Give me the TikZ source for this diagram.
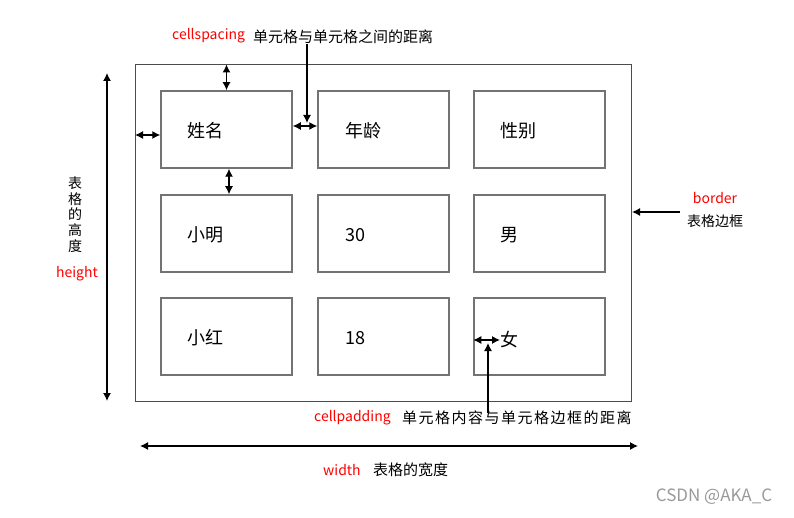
\documentclass[tikz,border=0pt]{standalone}
\usepackage{fontspec}
\newfontfamily\cjk{Noto Sans CJK SC}
\newfontfamily\cjkwide[LetterSpace=10]{Noto Sans CJK SC}
\usetikzlibrary{arrows.meta}

\begin{document}
\begin{tikzpicture}[x=1pt,y=-1pt,
		cellbox/.style={draw=black!55, line width=1.5pt, minimum width=131pt, minimum height=77pt},
		celltext/.style={anchor=west, inner sep=0pt, font={\cjk\fontsize{18}{20}\selectfont}},
		note/.style={inner sep=0pt, font={\cjk\fontsize{15}{16}\selectfont}},
		rednote/.style={inner sep=0pt, text=red, font={\cjk\fontsize{14}{16}\selectfont}},
		dim/.style={{Latex[length=8pt,width=8pt]}-{Latex[length=8pt,width=8pt]}, line width=1.2pt},
		pointer/.style={-{Latex[length=8pt,width=8pt]}, line width=1.2pt}
	]
	\useasboundingbox (0,0) rectangle (794,518);

	\node[draw=black!70, line width=1pt, minimum width=496pt, minimum height=336pt] (tbl) at (383.5,233) {};

	\node[cellbox] (c11) at (226.5,129.5) {};
	\node[cellbox] (c12) at (383.5,129.5) {};
	\node[cellbox] (c13) at (539.5,129.5) {};
	\node[cellbox] (c21) at (226.5,233.5) {};
	\node[cellbox] (c22) at (383.5,233.5) {};
	\node[cellbox] (c23) at (539.5,233.5) {};
	\node[cellbox] (c31) at (226.5,336.5) {};
	\node[cellbox] (c32) at (383.5,336.5) {};
	\node[cellbox] (c33) at (539.5,336.5) {};

	\node[celltext] (t11) at (187,131) {姓名};
	\node[celltext] (t12) at (345,131) {年龄};
	\node[celltext] (t13) at (500,131) {性别};
	\node[celltext] (t21) at (187,235) {小明};
	\node[celltext] (t22) at (345,235) {30};
	\node[celltext] (t23) at (500,235) {男};
	\node[celltext] (t31) at (187,338) {小红};
	\node[celltext] (t32) at (345,338) {18};
	\node[celltext] (t33) at (500,340) {女};

	\coordinate (lpad) at ([yshift=-5.5pt]c11.west);
	\coordinate (mgap) at ([yshift=3.5pt]c11.east);
	\coordinate (rgap) at ([xshift=2.5pt]c11.south);
	\draw[dim] (c11.north) -- (c11.north |- tbl.north);
	\draw[dim] (lpad) -- (lpad -| tbl.west);
	\draw[dim] (mgap) -- (mgap -| c12.west);
	\draw[dim] (rgap) -- (rgap |- c21.north);
	\draw[dim] (c33.west |- t33.west) -- (t33.west);

	\node[rednote, anchor=west] (spacelbl) at (172,36) {cellspacing};
	\node[note, anchor=west] (spacedesc) at (253,37) {单元格与单元格之间的距离};
	\coordinate (spacetip) at (307,123);
	\draw[pointer] (spacedesc.south -| spacetip) -- (spacetip);

	\node[rednote, anchor=west] (padlbl) at (314,418) {cellpadding};
	\node[note, anchor=west, font={\cjkwide\fontsize{15}{16}\selectfont}] (paddesc) at (402,418) {单元格内容与单元格边框的距离};
	\coordinate (padtip) at (488,343);
	\draw[pointer] ([yshift=-2pt]paddesc.north -| padtip) -- (padtip);

	\node[rednote] (borderlbl) at (715,198) {border};
	\node[note, font={\cjk\fontsize{14}{16}\selectfont}] (borderdesc) at (715,221) {表格边框};
	\coordinate (bordertail) at (680,212);
	\draw[pointer] (bordertail) -- (bordertail -| tbl.east);

	\coordinate (htop) at (107,73);
	\coordinate (hbot) at (107,401);
	\draw[dim] (htop) -- (hbot);
	\node[note, align=center, font={\cjk\fontsize{14}{15.75}\selectfont}] (heightdesc) at (75,214.5) {表\\格\\的\\高\\度};
	\node[rednote] (heightlbl) at (77,274) {height};

	\coordinate (wleft) at (140,446);
	\coordinate (wright) at (638,446);
	\draw[dim] (wleft) -- (wright);
	\node[rednote, anchor=west] (widthlbl) at (323,470) {width};
	\node[note, anchor=west] (widthdesc) at (373,470) {表格的宽度};

	\node[text=black!40, font={\cjk\fontsize{17}{19}\selectfont}] (mark) at (714,497) {CSDN @AKA\_C};

\end{tikzpicture}
\end{document}
